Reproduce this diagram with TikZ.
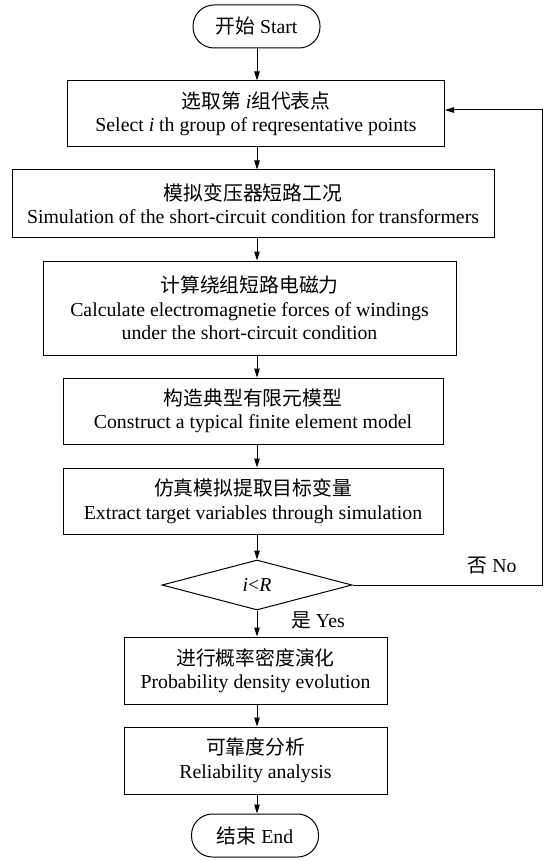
\documentclass[tikz,border=0pt]{standalone}
\usepackage{fontspec}
\setmainfont{Liberation Serif}
\newfontfamily\cjk{Noto Sans CJK SC}
\usetikzlibrary{shapes.geometric,arrows.meta}
\newcommand{\zh}[1]{{\cjk #1}}
\begin{document}
\begin{tikzpicture}[x=1pt, y=-1pt, line width=1pt,
    every node/.style = {align=center, font=\fontsize{19.8}{23.5}\selectfont},
    procbox/.style = {draw, rectangle, inner sep=2pt},
    termbox/.style = {draw, rectangle, rounded corners=21pt, minimum width=127pt, minimum height=43pt},
    decbox/.style = {draw, diamond, inner sep=0pt, minimum width=190pt, minimum height=50pt},
    arr/.style = {-{Triangle[length=9pt, width=5.5pt]}}]
    \useasboundingbox (0,0) rectangle (544,861);
    \coordinate (spine) at (257,0);
    \coordinate (loopx) at (542,0);

    \node (start) at (256.5, 26.5) [termbox] {\zh{开始} Start};
    \node (b1) at (256, 114) [procbox, minimum width=377pt, minimum height=66pt]
        {\zh{选取第} \textit{i}\zh{组代表点}\\Select \textit{i} th group of reqresentative points};
    \node (b2) at (253, 203.5) [procbox, minimum width=482pt, minimum height=67pt]
        {\zh{模拟变压器短路工况}\\Simulation of the short-circuit condition for transformers};
    \node (b3) at (249.5, 308) [procbox, minimum width=413pt, minimum height=94pt]
        {\zh{计算绕组短路电磁力}\\Calculate electromagnetie forces of windings\\under the short-circuit condition};
    \node (b4) at (253, 411) [procbox, minimum width=380pt, minimum height=66pt]
        {\zh{构造典型有限元模型}\\Construct a typical finite element model};
    \node (b5) at (253, 501) [procbox, minimum width=380pt, minimum height=66pt]
        {\zh{仿真模拟提取目标变量}\\Extract target variables through simulation};
    \node (cond) at (257, 585) [decbox] {\textit{i}<\textit{R}};
    \node (b6) at (255.5, 670.5) [procbox, minimum width=263pt, minimum height=67pt]
        {\zh{进行概率密度演化}\\Probability density evolution};
    \node (b7) at (255.5, 760.5) [procbox, minimum width=263pt, minimum height=67pt]
        {\zh{可靠度分析}\\Reliability analysis};
    \node (stop) at (255, 835.5) [termbox] {\zh{结束} End};

    \node (no) at (492, 566) {\zh{否} No};
    \node (yes) at (318, 620) {\zh{是} Yes};

    \draw[arr] (start.south -| spine) -- (b1.north -| spine);
    \draw[arr] (b1.south -| spine) -- (b2.north -| spine);
    \draw[arr] (b2.south -| spine) -- (b3.north -| spine);
    \draw[arr] (b3.south -| spine) -- (b4.north -| spine);
    \draw[arr] (b4.south -| spine) -- (b5.north -| spine);
    \draw[arr] (b5.south -| spine) -- (cond.north);
    \draw[arr] (cond.south) -- (b6.north -| spine);
    \draw[arr] (b6.south -| spine) -- (b7.north -| spine);
    \draw[arr] (b7.south -| spine) -- (stop.north -| spine);
    \draw[arr] (cond.east) -- (cond.east -| loopx) |- ([yshift=4pt]b1.east);
\end{tikzpicture}
\end{document}
